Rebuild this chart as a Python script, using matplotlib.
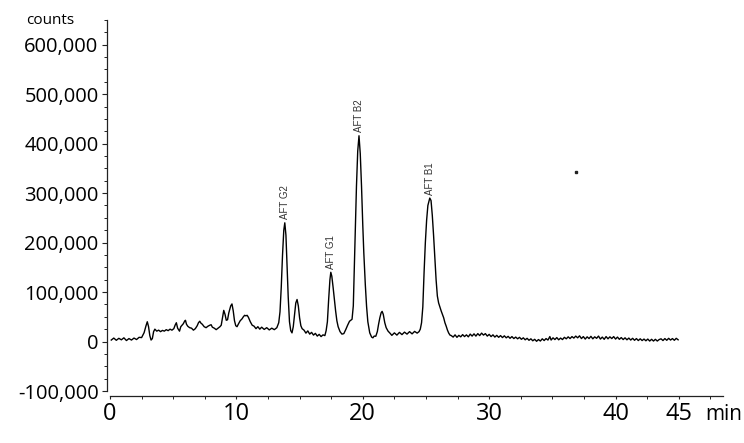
import matplotlib
matplotlib.use("Agg")
import matplotlib.pyplot as plt
from matplotlib.ticker import MultipleLocator, FixedLocator, FuncFormatter

# ---- data ----
time_min = [
    0.1, 0.3, 0.5, 0.7, 0.9, 1.1, 1.3, 1.5, 1.7, 1.9, 2.1, 2.3, 2.5, 2.7, 2.85, 2.95,
    3.05, 3.15, 3.25, 3.35, 3.45, 3.55, 3.7, 3.85, 4.0, 4.15, 4.3, 4.45, 4.6, 4.75, 4.9,
    5.05, 5.15, 5.25, 5.35, 5.5, 5.6, 5.7, 5.8, 5.9, 5.97, 6.05, 6.15, 6.3, 6.45, 6.6,
    6.75, 6.9, 7.0, 7.1, 7.2, 7.3, 7.45, 7.6, 7.75, 7.9, 8.0, 8.1, 8.25, 8.4, 8.55, 8.7,
    8.8, 8.9, 9.0, 9.1, 9.2, 9.3, 9.4, 9.55, 9.65, 9.75, 9.85, 9.95, 10.05, 10.15, 10.3,
    10.45, 10.55, 10.65, 10.75, 10.85, 10.95, 11.1, 11.25, 11.4, 11.55, 11.7, 11.85,
    12.0, 12.2, 12.4, 12.6, 12.8, 13.0, 13.2, 13.35, 13.45, 13.55, 13.65, 13.75, 13.83,
    13.92, 14.0, 14.1, 14.2, 14.3, 14.4, 14.5, 14.6, 14.7, 14.8, 14.9, 15.0, 15.1, 15.2,
    15.35, 15.5, 15.65, 15.8, 15.95, 16.1, 16.25, 16.4, 16.55, 16.7, 16.85, 17.0, 17.1,
    17.2, 17.3, 17.4, 17.47, 17.55, 17.65, 17.75, 17.85, 17.95, 18.05, 18.2, 18.35, 18.5,
    18.65, 18.8, 18.95, 19.05, 19.15, 19.25, 19.37, 19.5, 19.6, 19.7, 19.8, 19.9, 20.0,
    20.08, 20.2, 20.3, 20.4, 20.55, 20.7, 20.8, 20.9, 21.03, 21.15, 21.25, 21.35, 21.45,
    21.53, 21.62, 21.74, 21.85, 22.0, 22.15, 22.3, 22.5, 22.7, 22.9, 23.1, 23.3, 23.5,
    23.7, 23.9, 24.1, 24.3, 24.45, 24.55, 24.65, 24.75, 24.85, 24.95, 25.05, 25.15, 25.3,
    25.4, 25.5, 25.6, 25.7, 25.8, 25.9, 26.0, 26.1, 26.2, 26.3, 26.4, 26.5, 26.6, 26.7,
    26.8, 26.9, 27.0, 27.15, 27.3, 27.45, 27.6, 27.75, 27.9, 28.05, 28.2, 28.35, 28.5,
    28.65, 28.8, 28.95, 29.1, 29.25, 29.4, 29.55, 29.7, 29.85, 30.0, 30.15, 30.3, 30.45,
    30.6, 30.75, 30.9, 31.05, 31.2, 31.35, 31.5, 31.65, 31.8, 31.95, 32.1, 32.25, 32.4,
    32.55, 32.7, 32.85, 33.0, 33.15, 33.3, 33.45, 33.6, 33.75, 33.9, 34.05, 34.2, 34.35,
    34.5, 34.65, 34.8, 34.9, 35.05, 35.2, 35.35, 35.5, 35.65, 35.8, 35.95, 36.1, 36.25,
    36.4, 36.55, 36.7, 36.85, 37.0, 37.15, 37.3, 37.45, 37.6, 37.75, 37.9, 38.05, 38.2,
    38.35, 38.5, 38.65, 38.8, 38.95, 39.1, 39.25, 39.4, 39.55, 39.7, 39.85, 40.0, 40.15,
    40.3, 40.45, 40.6, 40.75, 40.9, 41.05, 41.2, 41.35, 41.5, 41.65, 41.8, 41.95, 42.1,
    42.25, 42.4, 42.55, 42.7, 42.85, 43.0, 43.15, 43.3, 43.45, 43.6, 43.75, 43.9, 44.05,
    44.2, 44.35, 44.5, 44.65, 44.8, 44.95,
]
counts = [
    3000, 7000, 2500, 6500, 3500, 7500, 2000, 6000, 3000, 7000, 4000, 8500, 8000, 18000, 32000, 40000,
    30000, 12000, 3000, 6000, 20000, 25000, 21000, 23000, 20000, 22500, 21000, 24000, 22000, 25000, 23000,
    26000, 33000, 38000, 27000, 21000, 30000, 33000, 36000, 41000, 43000, 35000, 31000, 28000, 27000, 23000,
    26000, 32000, 38000, 41000, 37000, 35000, 30000, 28000, 31000, 33000, 34000, 29000, 27000, 24000, 27000, 30000,
    33000, 48000, 63000, 55000, 43000, 44000, 58000, 72000, 76000, 62000, 42000, 32000, 30000, 35000, 42000,
    46000, 50000, 53000, 52000, 53000, 49000, 40000, 33000, 31000, 26000, 30000, 25000,
    29000, 24500, 28000, 23500, 27000, 24000, 28000, 38000, 60000, 110000, 175000, 225000, 240000,
    215000, 160000, 90000, 40000, 22000, 17500, 30000, 55000, 78000, 85000, 72000, 48000, 32000, 26000,
    23000, 17000, 21500, 15000, 18500, 13000, 16500, 11000, 14500, 10000, 13500, 12000, 22000,
    40000, 85000, 125000, 140000, 132000, 110000, 85000, 62000, 42000, 30000, 20000, 15000, 16000,
    24000, 33000, 41000, 43000, 45000, 72000, 192000, 314000, 385000, 416000, 380000, 314000, 235000,
    180000, 115000, 71000, 40000, 17500, 9000, 7500, 11000, 10700, 20000, 35000, 48000, 58000,
    61000, 55000, 38000, 28000, 21000, 17000, 12500, 17500, 13000, 18500, 14000, 19000, 15000,
    20000, 15500, 20500, 17000, 20000, 25000, 38000, 70000, 140000, 200000, 245000, 275000, 290000,
    285000, 255000, 215000, 170000, 125000, 92000, 78000, 70000, 62000, 55000, 48000, 38000, 31000, 23000,
    17000, 13000, 12000, 9000, 13500, 8500, 12500, 9500, 14000, 10000, 13500, 9500, 15000,
    11000, 15500, 11000, 16000, 12000, 17000, 13000, 16000, 11000, 14500, 10000, 13500, 9000,
    12500, 8500, 12000, 8000, 11500, 7500, 10500, 6500, 10000, 6000, 9000, 5500, 8500,
    4500, 7500, 3500, 6500, 2500, 5500, 1500, 4500, 500, 4000, 1000, 5500, 2000,
    6000, 3000, 10000, 3000, 7500, 4000, 8000, 3500, 7000, 4000, 8500, 5500, 9500,
    6000, 10000, 7000, 11000, 7500, 11500, 6000, 10000, 5000, 9500, 6000, 10500, 5500,
    9500, 6500, 11000, 5000, 9000, 4500, 10000, 5500, 9500, 6000, 10000, 5000, 9000,
    4500, 8000, 4000, 7500, 3500, 7000, 3000, 6500, 2500, 6000, 2000, 5500, 2000,
    5000, 1500, 5000, 1000, 4500, 1000, 4500, 1000, 4000, 5500, 2000, 6000, 2500,
    6500, 3000, 6000, 2500, 6500, 3500,
]

peak_names = ["AFT G2", "AFT G1", "AFT B2", "AFT B1"]
peak_times = [13.83, 17.47, 19.7, 25.3]
peak_heights = [240000, 140000, 416000, 290000]

stray_time = [36.9]
stray_counts = [343000]

x_tick_values = [0, 10, 20, 30, 40, 45]
y_tick_values = [-100000, 0, 100000, 200000, 300000, 400000, 500000, 600000]

# ---- figure ----
W, H = 744, 443
fig = plt.figure(figsize=(W / 100, H / 100), dpi=100)
ax_left, ax_right, ax_top, ax_bottom = 110, 723, 20, 391
ax = fig.add_axes([ax_left / W, (H - ax_bottom) / H,
                   (ax_right - ax_left) / W, (ax_bottom - ax_top) / H])

ax.plot(time_min, counts, color="black", lw=1.0)
ax.plot(stray_time, stray_counts, ls="none", marker="s", ms=1.5, color="#222222")

for name, t, h in zip(peak_names, peak_times, peak_heights):
    ax.annotate(name, xy=(t, h), xytext=(0, 2.5), textcoords="offset points",
                rotation=90, ha="center", va="bottom", fontsize=7,
                family="Liberation Sans", color="#333333")

ax.set_xlim(0, 48.5)
ax.set_ylim(-100000, 650000)

for s in ("top", "right"):
    ax.spines[s].set_visible(False)
ax.spines["left"].set_position(("outward", 2.2))
ax.spines["bottom"].set_position(("outward", 3.6))
for s in ("left", "bottom"):
    ax.spines[s].set_linewidth(0.9)
    ax.spines[s].set_color("#222222")

ax.xaxis.set_major_locator(FixedLocator(x_tick_values))
ax.xaxis.set_minor_locator(MultipleLocator(2.5))
ax.yaxis.set_major_locator(FixedLocator(y_tick_values))
ax.yaxis.set_minor_locator(MultipleLocator(25000))
ax.yaxis.set_major_formatter(FuncFormatter(lambda v, p: f"{int(v):,}"))

ax.tick_params(axis="y", which="major", length=3.5, width=0.8, pad=2.5,
               labelsize=14.5, colors="#222222", labelcolor="black")
ax.tick_params(axis="y", which="minor", length=2, width=0.7, colors="#222222")
ax.tick_params(axis="x", which="major", length=2.5, width=0.8, pad=2,
               labelsize=17, colors="#222222", labelcolor="black")
ax.tick_params(axis="x", which="minor", length=2.5, width=0.7, colors="#222222")
for lab in ax.get_xticklabels() + ax.get_yticklabels():
    lab.set_family("Open Sans")

fig.text(50 / W, 1 - 21 / H, "counts", ha="center", va="center",
         fontsize=11, family="Open Sans", color="black")
fig.text(705 / W, 1 - 414 / H, "min", ha="left", va="center",
         fontsize=15, family="Open Sans", color="black")

fig.savefig("out.png", dpi=100)
